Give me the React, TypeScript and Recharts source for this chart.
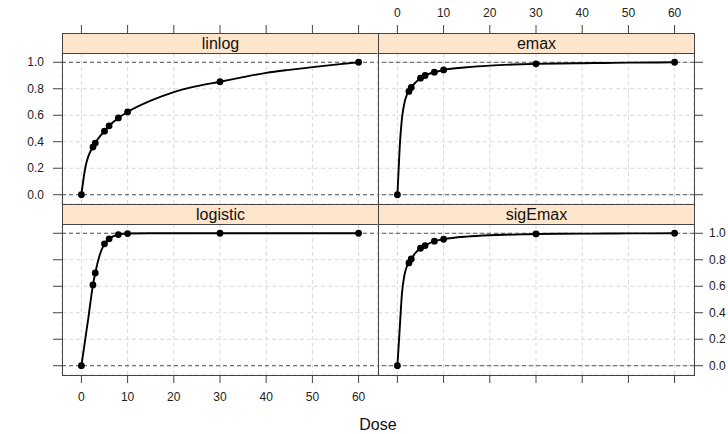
import React from 'react';
import { ComposedChart, Line, Scatter, XAxis, YAxis, CartesianGrid, ReferenceLine } from 'recharts';

// dose grid used for the fitted curves, and the doses marked with points
const doseGrid = [0, 0.5, 1, 1.5, 2, 2.5, 3, 4, 5, 6, 8, 10, 15, 20, 25, 30, 35, 40, 45, 50, 55, 60];
const obsDose = [0, 2.5, 3, 5, 6, 8, 10, 30, 60];

const linlogCurve = [0, 0.13, 0.23, 0.29, 0.33, 0.36, 0.39, 0.44, 0.48, 0.52, 0.58, 0.625, 0.71, 0.775, 0.82, 0.853, 0.888, 0.92, 0.943, 0.963, 0.982, 1.0];
const emaxCurve = [0, 0.36, 0.58, 0.69, 0.75, 0.78, 0.81, 0.85, 0.88, 0.9, 0.925, 0.942, 0.962, 0.975, 0.983, 0.988, 0.991, 0.993, 0.995, 0.997, 0.998, 1.0];
const logisticCurve = [0, 0.12, 0.24, 0.36, 0.49, 0.61, 0.7, 0.84, 0.92, 0.958, 0.99, 0.998, 1, 1, 1, 1, 1, 1, 1, 1, 1, 1];
const sigEmaxCurve = [0, 0.28, 0.55, 0.68, 0.745, 0.776, 0.806, 0.855, 0.887, 0.907, 0.94, 0.955, 0.975, 0.985, 0.99, 0.995, 0.996, 0.997, 0.998, 0.999, 0.999, 1.0];

const xTicks = [0, 10, 20, 30, 40, 50, 60];
const yTicks = [0, 0.2, 0.4, 0.6, 0.8, 1];

const W = 728;
const H = 434;
const FONT = '"Liberation Sans", Arial, sans-serif';
const INK = '#222';
const BORDER = '#444';

const COLS = { left: [62, 378], right: [378, 694] };
const ROWS = { top: { strip: 33, plot: [53, 204] }, bottom: { strip: 204, plot: [224, 375] } };

type Col = 'left' | 'right';
type Row = 'top' | 'bottom';

function Panel({ name, curve, col, row, xLabels, yLabels }: {
  name: string; curve: number[]; col: Col; row: Row; xLabels: boolean; yLabels: boolean;
}) {
  const [pl, pr] = COLS[col];
  const [pt, pb] = ROWS[row].plot;
  const st = ROWS[row].strip;
  const rows = doseGrid.map((d, i) => ({ dose: d, value: curve[i] }));
  const pts = rows.filter((r) => obsDose.includes(r.dose));

  const xTick = (p: any) => {
    const x = p.x;
    const v = p.payload.value;
    if (row === 'top') {
      return (
        <g>
          <line x1={x} x2={x} y1={st - 8} y2={st} stroke={BORDER} />
          {xLabels && <text x={x} y={13} textAnchor="middle" dominantBaseline="central" fontSize={12} fill={INK} fontFamily={FONT}>{v}</text>}
        </g>
      );
    }
    return (
      <g>
        <line x1={x} x2={x} y1={pb} y2={pb + 8} stroke={BORDER} />
        {xLabels && <text x={x} y={397} textAnchor="middle" dominantBaseline="central" fontSize={12} fill={INK} fontFamily={FONT}>{v}</text>}
      </g>
    );
  };

  const yTick = (p: any) => {
    const y = p.y;
    const v = Number(p.payload.value).toFixed(1);
    if (col === 'left') {
      return (
        <g>
          <line x1={pl - 9} x2={pl} y1={y} y2={y} stroke={BORDER} />
          {yLabels && <text x={44} y={y} textAnchor="end" dominantBaseline="central" fontSize={12} fill={INK} fontFamily={FONT}>{v}</text>}
        </g>
      );
    }
    return (
      <g>
        <line x1={pr} x2={pr + 9} y1={y} y2={y} stroke={BORDER} />
        {yLabels && <text x={709} y={y} textAnchor="start" dominantBaseline="central" fontSize={12} fill={INK} fontFamily={FONT}>{v}</text>}
      </g>
    );
  };

  return (
    <>
      <div style={{ position: 'absolute', left: 0, top: 0 }}>
        <ComposedChart
          width={W}
          height={H}
          margin={{
            top: row === 'top' ? 0 : pt,
            bottom: row === 'bottom' ? 0 : H - pb,
            left: col === 'left' ? 0 : pl,
            right: col === 'right' ? 0 : W - pr,
          }}
        >
          <CartesianGrid stroke="#d9d9d9" strokeDasharray="4 3" />
          <XAxis
            type="number"
            dataKey="dose"
            domain={[-4.2, 64.2]}
            ticks={xTicks}
            interval={0}
            orientation={row}
            height={row === 'top' ? pt : H - pb}
            axisLine={false}
            tickLine={false}
            tick={xTick}
            allowDataOverflow
          />
          <YAxis
            type="number"
            domain={[-0.07, 1.07]}
            ticks={yTicks}
            interval={0}
            orientation={col}
            width={col === 'left' ? pl : W - pr}
            axisLine={false}
            tickLine={false}
            tick={yTick}
            allowDataOverflow
          />
          <ReferenceLine y={0} stroke="#555" strokeDasharray="4 3" />
          <ReferenceLine y={1} stroke="#555" strokeDasharray="4 3" />
          <Line data={rows} dataKey="value" type="monotone" stroke="#000" strokeWidth={1.9} dot={false} isAnimationActive={false} />
          <Scatter
            data={pts}
            dataKey="value"
            isAnimationActive={false}
            shape={(s: any) => <circle cx={s.cx} cy={s.cy} r={3.4} fill="#000" />}
          />
        </ComposedChart>
      </div>
      <div style={{
        position: 'absolute', left: pl, top: st, width: pr - pl + 1, height: pb - st + 1,
        border: `1px solid ${BORDER}`, boxSizing: 'border-box', pointerEvents: 'none',
      }} />
      <div style={{
        position: 'absolute', left: pl, top: st, width: pr - pl + 1, height: pt - st + 1,
        background: '#ffe5cc', border: `1px solid ${BORDER}`, boxSizing: 'border-box',
        display: 'flex', alignItems: 'center', justifyContent: 'center',
        fontFamily: FONT, fontSize: 16, color: '#111', lineHeight: 1,
      }}>
        {name}
      </div>
    </>
  );
}

export default function App() {
  return (
    <div style={{ position: 'absolute', left: 0, top: 0, width: W, height: H, background: '#fff', fontFamily: FONT, overflow: 'hidden' }}>
      <Panel name="linlog" curve={linlogCurve} col="left" row="top" xLabels={false} yLabels />
      <Panel name="emax" curve={emaxCurve} col="right" row="top" xLabels yLabels={false} />
      <Panel name="logistic" curve={logisticCurve} col="left" row="bottom" xLabels yLabels={false} />
      <Panel name="sigEmax" curve={sigEmaxCurve} col="right" row="bottom" xLabels={false} yLabels />
      <div style={{ position: 'absolute', left: 328, width: 100, top: 415, textAlign: 'center', fontSize: 16, color: '#111', lineHeight: '20px' }}>
        Dose
      </div>
    </div>
  );
}
